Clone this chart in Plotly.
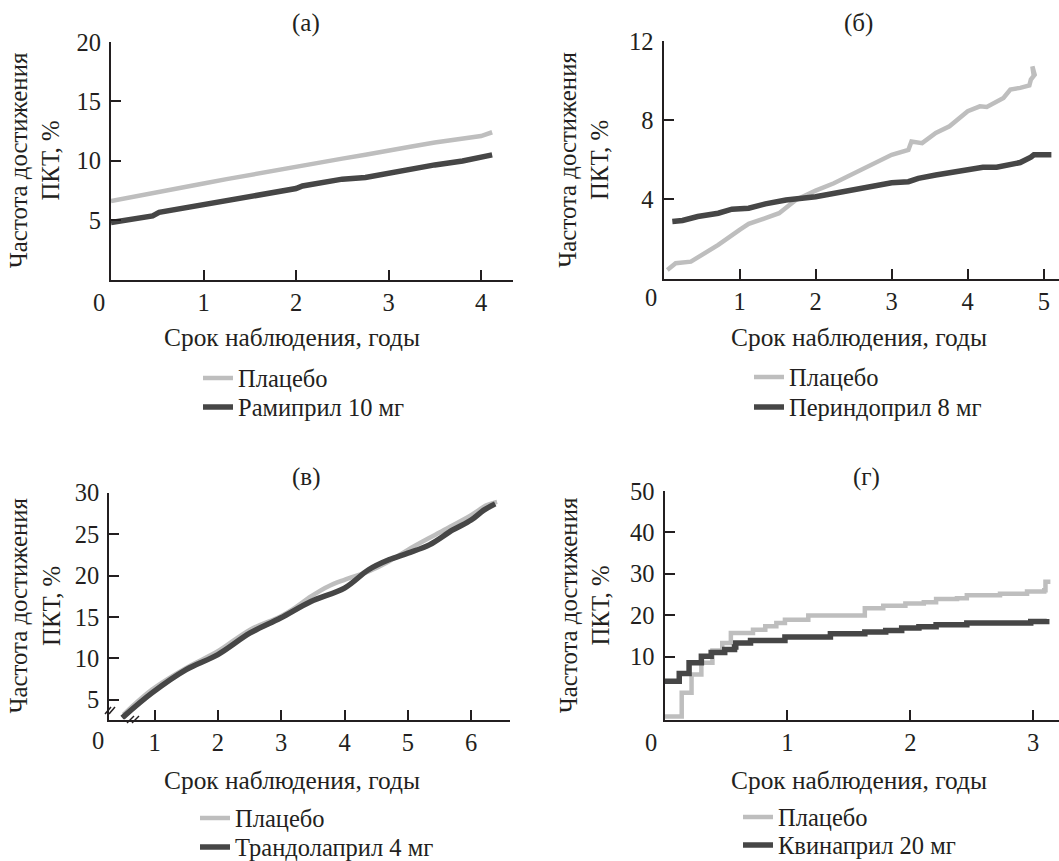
import plotly.graph_objects as go

W, H = 1059, 861
FONT = "Liberation Serif, Times New Roman, serif"
LIGHT = "#bebebe"
DARK = "#464646"
TXT = "#231f20"

# ---------------- data ----------------
# (а) Рамиприл
a_x_pl = [0.0, 0.25, 0.5, 0.75, 1.0, 1.25, 1.5, 1.75, 2.0, 2.25, 2.5, 2.75, 3.0, 3.25, 3.5, 3.75, 4.0, 4.12]
a_y_pl = [6.6, 6.95, 7.3, 7.7, 8.08, 8.45, 8.8, 9.2, 9.57, 9.85, 10.18, 10.5, 10.88, 11.2, 11.53, 11.8, 12.08, 12.4]
a_x_dr = [0.0, 0.2, 0.45, 0.52, 0.75, 1.0, 1.25, 1.5, 1.75, 2.0, 2.07, 2.3, 2.5, 2.75, 3.0, 3.2, 3.35, 3.5, 3.8, 4.0, 4.12]
a_y_dr = [4.8, 5.05, 5.36, 5.65, 5.95, 6.29, 6.65, 7.04, 7.35, 7.66, 7.88, 8.2, 8.45, 8.59, 8.95, 9.15, 9.45, 9.65, 9.98, 10.25, 10.49]

# (б) Периндоприл
b_x_pl = [0.05, 0.16, 0.36, 0.545, 0.72, 1.0, 1.12, 1.34, 1.52, 1.74, 2.0, 2.24, 2.5, 2.68, 3.0, 3.22, 3.26,
          3.4, 3.58, 3.76, 4.0, 4.16, 4.25, 4.47, 4.56, 4.69, 4.81, 4.83, 4.88, 4.85, 4.87]
b_y_pl = [0.43, 0.77, 0.85, 1.27, 1.70, 2.46, 2.76, 3.05, 3.3, 3.97, 4.44, 4.81, 5.32, 5.66, 6.25, 6.5, 6.92,
          6.84, 7.35, 7.69, 8.45, 8.7, 8.67, 9.12, 9.55, 9.63, 9.75, 10.05, 10.3, 10.72, 10.2]
b_x_dr = [0.116, 0.25, 0.45, 0.72, 0.9, 1.12, 1.34, 1.61, 2.0, 2.24, 2.5, 2.77, 3.0, 3.22, 3.35, 3.58, 4.0,
          4.2, 4.38, 4.56, 4.69, 4.83, 4.87, 5.1]
b_y_dr = [2.88, 2.93, 3.13, 3.3, 3.5, 3.55, 3.77, 3.97, 4.13, 4.3, 4.47, 4.64, 4.84, 4.89, 5.06, 5.23, 5.45,
          5.62, 5.62, 5.74, 5.86, 6.13, 6.25, 6.25]

# (в) Трандолаприл
c_x_pl = [0.51, 0.96, 1.5, 2.0, 2.51, 2.99, 3.21, 3.47, 3.74, 4.0, 4.38, 4.7, 5.0, 5.5, 6.0, 6.25, 6.41]
c_y_pl = [3.23, 6.24, 8.86, 10.86, 13.47, 15.07, 16.08, 17.48, 18.69, 19.49, 20.5, 21.7, 23.1, 25.2, 27.3, 28.5, 28.9]
c_x_dr = [0.49, 0.96, 1.5, 2.0, 2.51, 2.99, 3.47, 4.0, 4.38, 4.7, 5.0, 5.34, 5.71, 6.0, 6.2, 6.38]
c_y_dr = [2.83, 5.84, 8.65, 10.46, 13.07, 14.88, 16.88, 18.49, 20.7, 21.9, 22.7, 23.7, 25.5, 26.7, 27.9, 28.65]

# (г) Квинаприл (ступенчатые кривые)
d_x_pl = [0.0, 0.14, 0.22, 0.3, 0.39, 0.47, 0.54, 0.72, 0.82, 0.91, 0.98, 1.17, 1.63, 1.78, 1.96, 2.11,
          2.21, 2.38, 2.46, 2.73, 2.95, 3.09, 3.1, 3.14]
d_y_pl = [-4.5, 1.25, 5.66, 8.48, 11.45, 13.3, 15.7, 16.5, 17.3, 18.1, 18.9, 19.9, 21.7, 22.3, 22.8, 23.1,
          23.9, 24.1, 24.8, 25.2, 25.7, 26.0, 28.1, 28.1]
d_x_dr = [0.0, 0.12, 0.2, 0.3, 0.38, 0.49, 0.57, 0.58, 0.7, 0.98, 1.35, 1.63, 1.8, 1.93, 2.07, 2.21, 2.46,
          2.98, 3.11]
d_y_dr = [4.05, 5.9, 8.5, 10.1, 11.0, 11.7, 12.3, 13.3, 13.9, 14.7, 15.5, 15.95, 16.3, 16.9, 17.2, 17.7,
          18.1, 18.5, 19.1]

PLACEBO = "Плацебо"
DRUGS = ["Рамиприл 10 мг", "Периндоприл 8 мг", "Трандолаприл 4 мг", "Квинаприл 20 мг"]
TITLES = ["(а)", "(б)", "(в)", "(г)"]
X_TITLE = "Срок наблюдения, годы"
Y_TITLE = "Частота достижения<br>ПКТ, %"

panels = [
    dict(key="", xp=a_x_pl, yp=a_y_pl, xd=a_x_dr, yd=a_y_dr,
         xr=[0, 4.34], yr=[0, 20], xt=[1, 2, 3, 4], yt=[5, 10, 15, 20], shape="linear",
         box=(111, 512.5, 42, 279.5), ttl=(306, 23), xtitle=(292, 337), ytitle=34.5, zero=(98.5, 302),
         leg=(198, 378, 407)),
    dict(key="2", xp=b_x_pl, yp=b_y_pl, xd=b_x_dr, yd=b_y_dr,
         xr=[0, 5.2], yr=[0, 12], xt=[1, 2, 3, 4, 5], yt=[4, 8, 12], shape="linear",
         box=(663.5, 1059, 41, 278.5), ttl=(858.5, 23), xtitle=(858.5, 337), ytitle=584, zero=(650.5, 297),
         leg=(749, 377, 407)),
    dict(key="3", xp=c_x_pl, yp=c_y_pl, xd=c_x_dr, yd=c_y_dr,
         xr=[0.284, 6.62], yr=[2.63, 30], xt=[1, 2, 3, 4, 5, 6], yt=[5, 10, 15, 20, 25, 30], shape="spline",
         box=(109.2, 510.4, 492.7, 719.5), ttl=(306, 477), xtitle=(292, 780), ytitle=34.5, zero=(98, 740),
         leg=(195, 818, 847)),
    dict(key="4", xp=d_x_pl, yp=d_y_pl, xd=d_x_dr, yd=d_y_dr,
         xr=[0, 3.21], yr=[-5.2, 50], xt=[1, 2, 3], yt=[10, 20, 30, 40, 50], shape="hv",
         box=(664.5, 1059, 491, 719.5), ttl=(866.5, 477), xtitle=(858.5, 780), ytitle=584, zero=(650.5, 742),
         leg=(738, 817, 845)),
]


def px(x):
    return x / W


def py(y):
    return 1 - y / H


fig = go.Figure()
layout = dict(
    width=W, height=H, margin=dict(l=0, r=0, t=0, b=0, autoexpand=False),
    paper_bgcolor="white", plot_bgcolor="white",
    font=dict(family=FONT, color=TXT, size=24),
)
annotations = []
shapes = []

for i, p in enumerate(panels):
    k = p["key"]
    xa = "x" + k
    ya = "y" + k
    lg1 = "legend" + ("" if i == 0 else str(2 * i + 1))
    lg2 = "legend" + str(2 * i + 2)
    fig.add_trace(go.Scatter(x=p["xp"], y=p["yp"], mode="lines", name=PLACEBO,
                             line=dict(color=LIGHT, width=4.5, shape=p["shape"]),
                             xaxis=xa, yaxis=ya, legend=lg1))
    fig.add_trace(go.Scatter(x=p["xd"], y=p["yd"], mode="lines", name=DRUGS[i],
                             line=dict(color=DARK, width=5.5, shape=p["shape"]),
                             xaxis=xa, yaxis=ya, legend=lg2))
    x0, x1, y0, y1 = p["box"]
    axcommon = dict(showline=True, linecolor=TXT, linewidth=2, ticks="inside", ticklen=10,
                    tickwidth=1.5, tickcolor=TXT, showgrid=False, zeroline=False,
                    tickfont=dict(family=FONT, size=24.5, color=TXT), fixedrange=True)
    layout["xaxis" + k] = dict(axcommon, domain=[px(x0), px(x1)], range=p["xr"], tickvals=p["xt"],
                               anchor=ya)
    layout["yaxis" + k] = dict(axcommon, domain=[py(y1), py(y0)], range=p["yr"], tickvals=p["yt"],
                               anchor=xa, ticklabelstandoff=3)
    lx, ly1, ly2 = p["leg"]
    for lg, ly in ((lg1, ly1), (lg2, ly2)):
        layout[lg] = dict(x=px(lx), y=py(ly), xanchor="left", yanchor="middle",
                          bgcolor="rgba(0,0,0,0)", font=dict(family=FONT, size=24.5, color=TXT),
                          itemwidth=30)
    tx, ty = p["ttl"]
    annotations.append(dict(text=TITLES[i], x=px(tx), y=py(ty), xref="paper", yref="paper",
                            showarrow=False, xanchor="center", yanchor="middle",
                            font=dict(size=25)))
    tx, ty = p["xtitle"]
    annotations.append(dict(text=X_TITLE, x=px(tx), y=py(ty), xref="paper",
                            yref="paper", showarrow=False, xanchor="center", yanchor="middle",
                            font=dict(size=25.4)))
    annotations.append(dict(text=Y_TITLE, x=px(p["ytitle"]),
                            y=py((y0 + y1) / 2), xref="paper", yref="paper", showarrow=False,
                            textangle=-90, xanchor="center", yanchor="middle",
                            font=dict(size=24.8)))
    zx, zy = p["zero"]
    annotations.append(dict(text="0", x=px(zx), y=py(zy), xref="paper", yref="paper",
                            showarrow=False, xanchor="center", yanchor="middle",
                            font=dict(size=24.5)))

# axis-break marks on panel (в)
for dx in (0, 4):
    shapes.append(dict(type="line", xref="paper", yref="paper",
                       x0=px(105 + dx), y0=py(714), x1=px(111 + dx), y1=py(707),
                       line=dict(color=TXT, width=1.5)))
for dx in (0, 5):
    shapes.append(dict(type="line", xref="paper", yref="paper",
                       x0=px(127 + dx), y0=py(723), x1=px(134 + dx), y1=py(716),
                       line=dict(color=TXT, width=1.5)))

layout["annotations"] = annotations
layout["shapes"] = shapes
layout["showlegend"] = True
fig.update_layout(**layout)
fig.write_html("out.html", config={"displayModeBar": False},
               post_script="document.body.style.margin='0';document.body.style.overflow='hidden';")
